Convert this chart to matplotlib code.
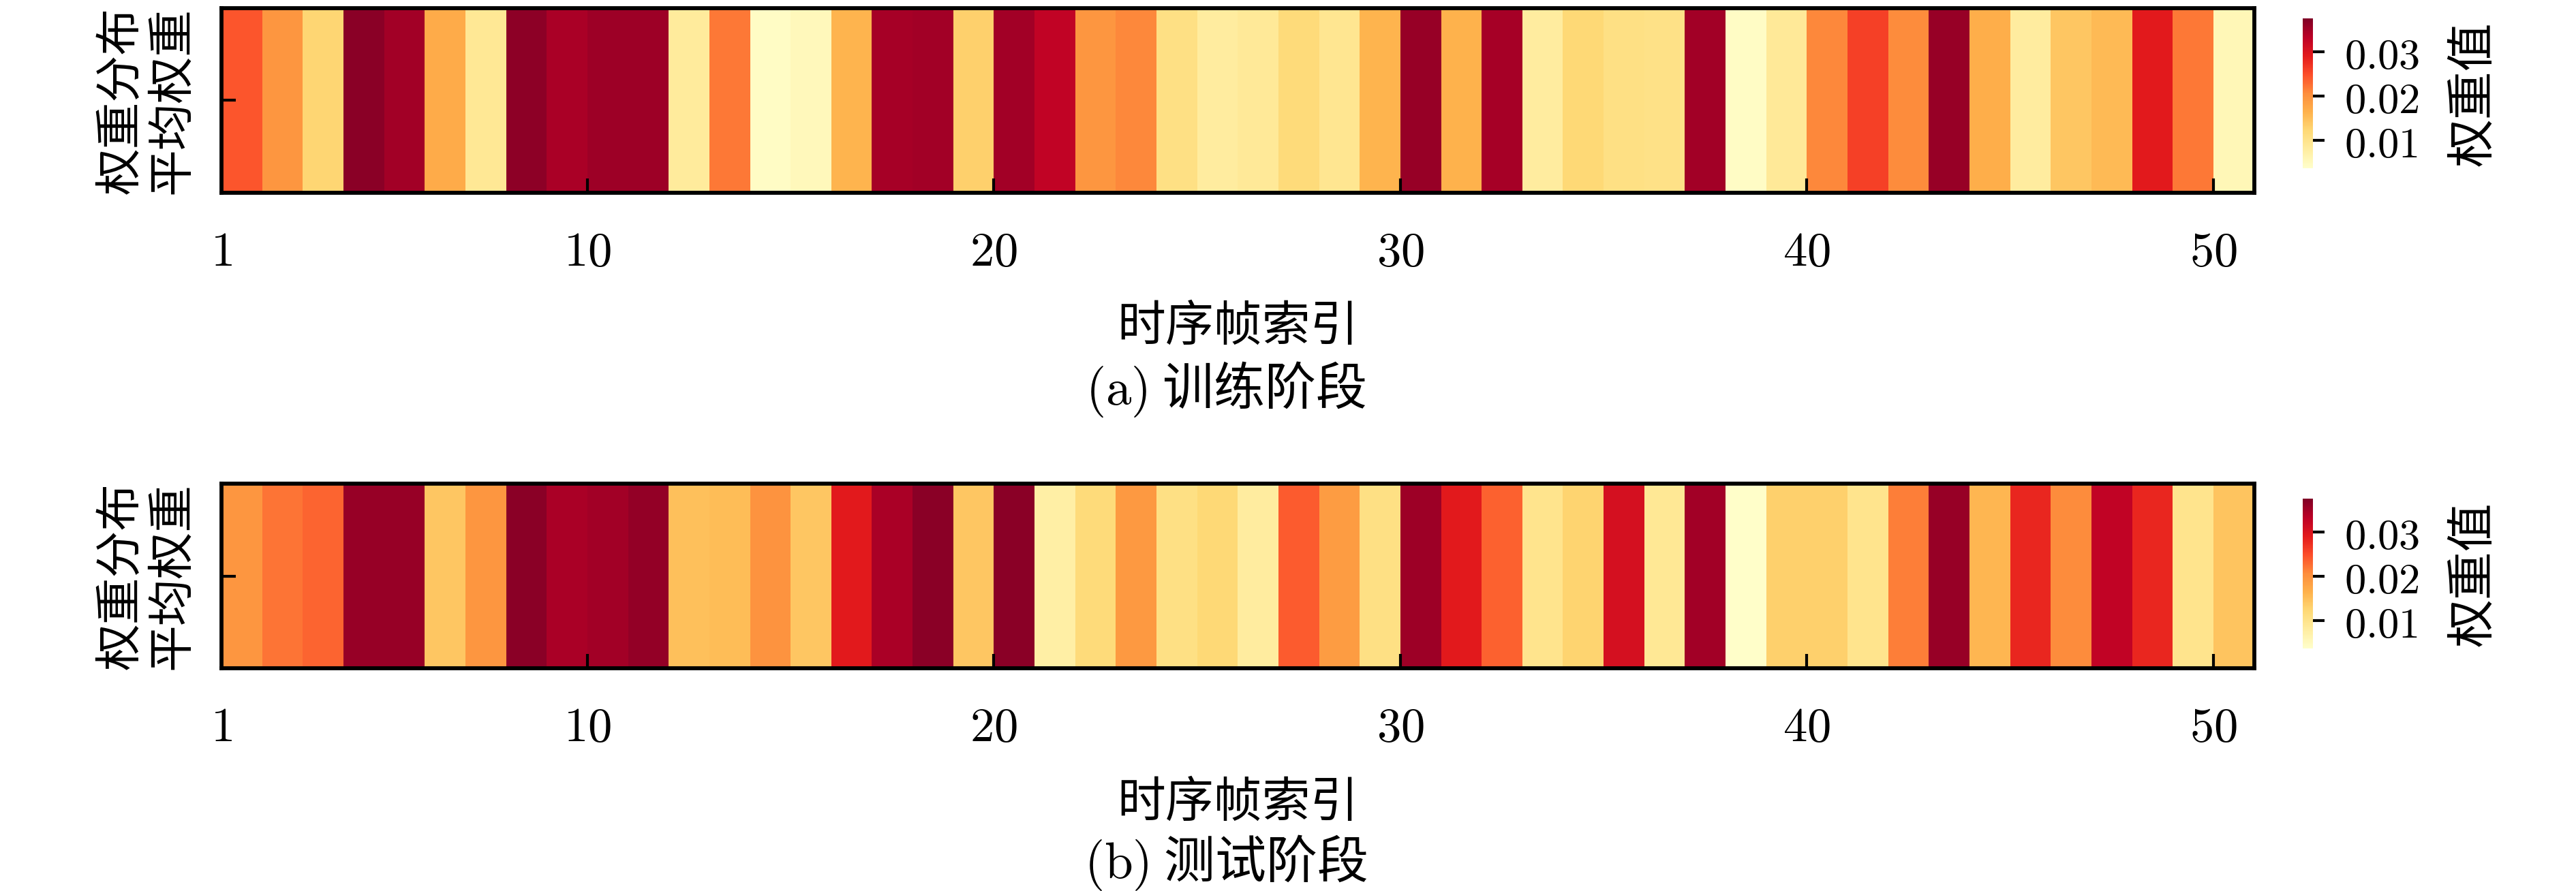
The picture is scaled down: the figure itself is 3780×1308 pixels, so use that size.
import numpy as np
import matplotlib
matplotlib.use("Agg")
import matplotlib.pyplot as plt
from matplotlib.colors import Normalize

plt.rcParams['font.family'] = ['Noto Sans CJK SC', 'DejaVu Sans']
plt.rcParams['mathtext.fontset'] = 'cm'

# 每帧平均权重
train_w = [0.0243, 0.0196, 0.0125, 0.0368, 0.0351, 0.0172, 0.0091, 0.0365, 0.0345, 0.0355,
           0.0355, 0.0084, 0.0220, 0.0044, 0.0054, 0.0162, 0.0348, 0.0351, 0.0132, 0.0351,
           0.0328, 0.0196, 0.0209, 0.0108, 0.0081, 0.0088, 0.0118, 0.0094, 0.0162, 0.0358,
           0.0164, 0.0348, 0.0081, 0.0122, 0.0108, 0.0105, 0.0351, 0.0044, 0.0088, 0.0209,
           0.0260, 0.0206, 0.0358, 0.0169, 0.0081, 0.0142, 0.0155, 0.0291, 0.0220, 0.0057]
test_w = [0.0196, 0.0223, 0.0233, 0.0358, 0.0358, 0.0142, 0.0196, 0.0368, 0.0345, 0.0351,
          0.0361, 0.0149, 0.0152, 0.0199, 0.0142, 0.0291, 0.0345, 0.0368, 0.0142, 0.0368,
          0.0074, 0.0118, 0.0192, 0.0108, 0.0122, 0.0081, 0.0240, 0.0189, 0.0108, 0.0355,
          0.0291, 0.0236, 0.0098, 0.0128, 0.0307, 0.0091, 0.0351, 0.0040, 0.0132, 0.0132,
          0.0098, 0.0216, 0.0358, 0.0159, 0.0280, 0.0206, 0.0328, 0.0280, 0.0098, 0.0145]
tick_labels = ['1', '10', '20', '30', '40', '50']
tick_pos = [0, 9, 19, 29, 39, 49]
cbar_ticks = [0.01, 0.02, 0.03]
captions = ['(a)', '(b)']
stages = ['训练阶段', '测试阶段']

fs = 16.5
norm = Normalize(vmin=0.0037, vmax=0.0375)

fig = plt.figure(figsize=(12.6, 4.36), dpi=300)

rows = [(0.784, 0.811, 0.563), (0.250, 0.272, 0.032)]
for (y0, cy0, capy), w, cap, st in zip(rows, [train_w, test_w], captions, stages):
    ax = fig.add_axes([0.086, y0, 0.789, 0.207])
    data = np.array(w).reshape(1, -1)
    mesh = ax.pcolormesh(np.arange(len(w) + 1), [0, 1], data, cmap='YlOrRd', norm=norm)
    ax.set_xlim(0, len(w))
    ax.set_ylim(0, 1)
    ax.set_xticks(tick_pos)
    ax.set_xticklabels(['$' + t + '$' for t in tick_labels], fontsize=fs + 0.5)
    ax.set_yticks([0.5])
    ax.set_yticklabels(['平均权重'], rotation=90, va='center', fontsize=fs)
    ax.tick_params(direction='in', length=5, width=1.0, pad=12)
    ax.tick_params(axis='y', pad=9)
    for s in ax.spines.values():
        s.set_linewidth(1.4)
    ax.set_xlabel('时序帧索引', fontsize=fs + 0.5, labelpad=9)
    ax.set_ylabel('权重分布', fontsize=fs, labelpad=1)

    cax = fig.add_axes([0.894, cy0, 0.004, 0.168])
    cb = fig.colorbar(mesh, cax=cax, ticks=cbar_ticks)
    cb.outline.set_visible(False)
    cb.ax.set_yticklabels(['$%.2f$' % t for t in cbar_ticks], fontsize=15)
    cb.ax.tick_params(length=4, width=1.0, pad=7)
    cb.set_label('权重值', fontsize=fs + 0.5, labelpad=10)

    fig.text(0.476, capy, '$\\mathrm{' + cap + '}$ ' + st, ha='center', va='center', fontsize=fs + 1.5)

fig.savefig('out.png', dpi=300)
